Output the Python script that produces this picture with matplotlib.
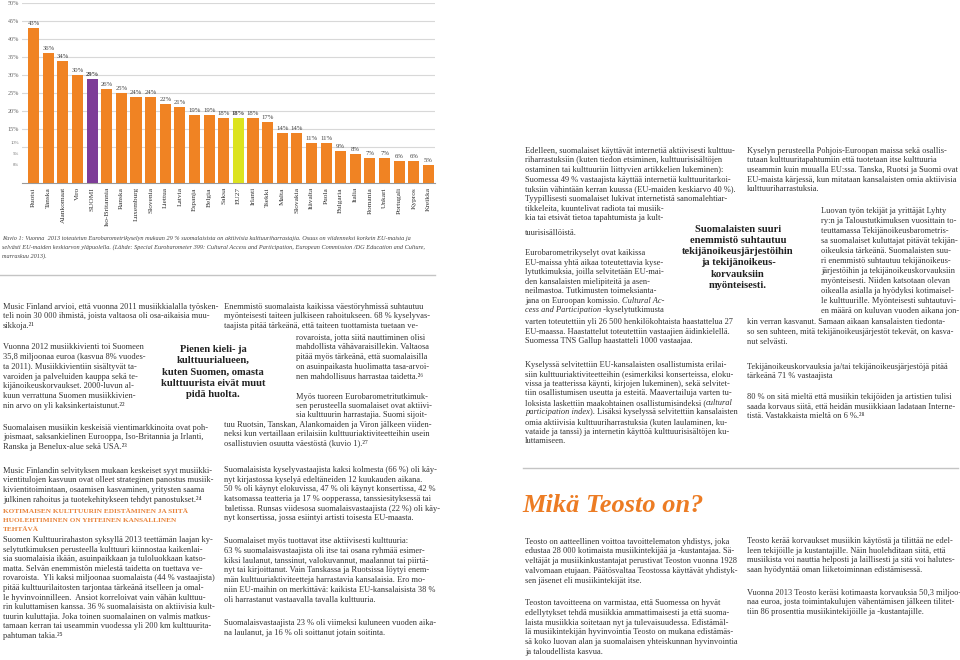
import matplotlib.pyplot as plt
from matplotlib.lines import Line2D

W, H = 960, 660
SERIF = ['Liberation Serif', 'DejaVu Serif']
TXT = '#333333'
ORANGE = '#f08323'
BODY = 6.0

countries = ['Ruotsi', 'Tanska', 'Alankomaat', 'Viro', 'SUOMI', 'Iso-Britannia', 'Ranska',
             'Luxemburg', 'Slovenia', 'Liettua', 'Latvia', 'Espanja', 'Belgia', 'Saksa',
             'EU27', 'Irlanti', 'Tsekki', 'Malta', 'Slovakia', 'Itävalta', 'Puola',
             'Bulgaria', 'Italia', 'Romania', 'Unkari', 'Portugali', 'Kypros', 'Kreikka']
share = [43, 36, 34, 30, 29, 26, 25, 24, 24, 22, 21, 19, 19, 18, 18, 18, 17, 14, 14,
         11, 11, 9, 8, 7, 7, 6, 6, 5]
special = {'SUOMI': '#7d3c98', 'EU27': '#dce31f'}
yticks = [15, 20, 25, 30, 35, 40, 45, 50]

caption = [
    'Kuvio 1: Vuonna  2013 toteutetun Eurobarometrikyselyn mukaan 29 % suomalaisista on aktiivisia kulttuuriharrastajia. Osuus on viidenneksi korkein EU-maista ja',
    'selvästi EU-maiden keskiarvon yläpuolella. (Lähde: Special Eurobarometer 399: Cultural Access and Participation, European Commission /DG Education and Culture,',
    'marraskuu 2013).',
]

fig = plt.figure(figsize=(9.6, 6.6), dpi=100)
fig.patch.set_facecolor('white')

# ---- bar chart
ax = fig.add_axes([22 / W, 1 - 183 / H, 413 / W, 180 / H])
x = range(len(countries))
colors = [special.get(c, ORANGE) for c in countries]
ax.bar(x, share, width=0.76, color=colors, zorder=3)
for i, (c, v) in enumerate(zip(countries, share)):
    ax.annotate('%d%%' % v, (i, v), xytext=(0, 1.5), textcoords='offset points',
                ha='center', va='bottom', fontsize=4.8, color='#444',
                family=SERIF, fontweight='bold' if c in special else 'normal')
ax.set_xlim(-0.8, len(countries) - 0.55)
ax.set_ylim(0, 50)
for g in [10] + yticks:
    ax.axhline(g, color='#d8d8d8', lw=0.8, zorder=1)
ax.set_yticks(yticks)
ax.set_yticklabels(['%d%%' % t for t in yticks], fontsize=4.4, color='#666', family=SERIF)
ax.set_xticks(list(x))
ax.set_xticklabels(countries, rotation=90, fontsize=5.3, color='#333', family=SERIF)
ax.tick_params(length=0, pad=3)
ax.tick_params(axis='y', pad=2)
for s in ['top', 'right', 'left']:
    ax.spines[s].set_visible(False)
ax.spines['bottom'].set_color('#999')
ax.spines['bottom'].set_linewidth(0.8)
# odd, squeezed low tick labels of the original chart
for lab, py in [('10%', 142.7), ('5%', 154), ('0%', 165)]:
    fig.text(19 / W, 1 - py / H, lab, ha='right', va='center', fontsize=3.4,
             color='#777', family=SERIF)

for i, s in enumerate(caption):
    fig.text(2 / W, 1 - (238.5 + i * 8.6) / H, s, ha='left', va='center', fontsize=4.5,
             style='italic', color='#444', family=SERIF)


def rule(x0, x1, y):
    fig.add_artist(Line2D([x0 / W, x1 / W], [1 - y / H, 1 - y / H], color='#c4c4c4', lw=1.0))


def block(x0, y0, lines, dy=9.7, size=BODY, **kw):
    out = []
    for i, s in enumerate(lines):
        out.append(fig.text(x0 / W, 1 - (y0 + i * dy) / H, s, ha='left', va='center',
                            fontsize=size, color=kw.get('color', TXT), family=SERIF,
                            fontweight=kw.get('weight', 'normal')))
    return out


def after(prev, s, style='normal'):
    return plt.annotate(s, xy=(1, 0.5), xycoords=prev, ha='left', va='center', fontsize=BODY,
                        color=TXT, family=SERIF, style=style, annotation_clip=False)


def quote(cx, y0, lines, dy=11.4):
    for i, s in enumerate(lines):
        fig.text(cx / W, 1 - (y0 + i * dy) / H, s, ha='center', va='center', fontsize=7.6,
                 fontweight='bold', color='#222', family=SERIF)


rule(0, 435, 275)
rule(523, 958, 468)

# ---- column 1
block(3, 306.7, ['Music Finland arvioi, että vuonna 2011 musiikkialalla työsken-',
                 'teli noin 30 000 ihmistä, joista valtaosa oli osa-aikaisia muu-',
                 'sikkoja.²¹'])
block(3, 347.3, ['Vuonna 2012 musiikkivienti toi Suomeen',
                 '35,8 miljoonaa euroa (kasvua 8% vuodes-',
                 'ta 2011). Musiikkivientiin sisältyvät ta-',
                 'varoiden ja palveluiden kauppa sekä te-',
                 'kijänoikeuskorvaukset. 2000-luvun al-',
                 'kuun verrattuna Suomen musiikkivien-',
                 'nin arvo on yli kaksinkertaistunut.²²'], dy=9.75)
block(3, 427.7, ['Suomalaisen musiikin keskeisiä vientimarkkinoita ovat poh-',
                 'joismaat, saksankielinen Eurooppa, Iso-Britannia ja Irlanti,',
                 'Ranska ja Benelux-alue sekä USA.²³'])
block(3, 470.7, ['Music Finlandin selvityksen mukaan keskeiset syyt musiikki-',
                 'vientitulojen kasvuun ovat olleet strateginen panostus musiik-',
                 'kivientitoimintaan, osaamisen kasvaminen, yritysten saama',
                 'julkinen rahoitus ja tuotekehitykseen tehdyt panostukset.²⁴'])
block(3, 511.7, ['KOTIMAISEN KULTTUURIN EDISTÄMINEN JA SIITÄ',
                 'HUOLEHTIMINEN ON YHTEINEN KANSALLINEN',
                 'TEHTÄVÄ'], dy=8.7, size=5.2, color='#e8843c', weight='bold')
block(3, 540.3, ['Suomen Kulttuurirahaston syksyllä 2013 teettämän laajan ky-',
                 'selytutkimuksen perusteella kulttuuri kiinnostaa kaikenlai-',
                 'sia suomalaisia ikään, asuinpaikkaan ja tuloluokkaan katso-',
                 'matta. Selvän enemmistön mielestä taidetta on tuettava ve-',
                 'rovaroista.  Yli kaksi miljoonaa suomalaista (44 % vastaajista)',
                 'pitää kulttuurilaitosten tarjontaa tärkeänä itselleen ja omal-',
                 'le hyvinvoinnilleen.  Ansiot korreloivat vain vähän kulttuu-',
                 'rin kuluttamisen kanssa. 36 % suomalaisista on aktiivisia kult-',
                 'tuurin kuluttajia. Joka toinen suomalainen on valmis matkus-',
                 'tamaan kerran tai useammin vuodessa yli 200 km kulttuurita-',
                 'pahtuman takia.²⁵'], dy=9.55)

# ---- column 2
block(224, 306.7, ['Enemmistö suomalaista kaikissa väestöryhmissä suhtautuu',
                   'myönteisesti taiteen julkiseen rahoitukseen. 68 % kyselyvas-',
                   'taajista pitää tärkeänä, että taiteen tuottamista tuetaan ve-'])
block(296, 337.7, ['rovaroista, jotta siitä nauttiminen olisi',
                   'mahdollista vähävaraisillekin. Valtaosa',
                   'pitää myös tärkeänä, että suomalaisilla',
                   'on asuinpaikasta huolimatta tasa-arvoi-',
                   'nen mahdollisuus harrastaa taidetta.²⁶'], dy=9.75)
block(296, 396.7, ['Myös tuoreen Eurobarometritutkimuk-',
                   'sen perusteella suomalaiset ovat aktiivi-',
                   'sia kulttuurin harrastajia. Suomi sijoit-'], dy=9.3)
block(224, 424.7, ['tuu Ruotsin, Tanskan, Alankomaiden ja Viron jälkeen viiden-',
                   'neksi kun vertaillaan erilaisiin kulttuuriaktiviteetteihin usein',
                   'osallistuvien osuutta väestöstä (kuvio 1).²⁷'], dy=9.3)
quote(213, 349.3, ['Pienen kieli- ja', 'kulttuurialueen,', 'kuten Suomen, omasta',
                   'kulttuurista eivät muut', 'pidä huolta.'])
block(224, 470, ['Suomalaisista kyselyvastaajista kaksi kolmesta (66 %) oli käy-',
                 'nyt kirjastossa kyselyä edeltäneiden 12 kuukauden aikana.',
                 '50 % oli käynyt elokuvissa, 47 % oli käynyt konsertissa, 42 %',
                 'katsomassa teatteria ja 17 % oopperassa, tanssiesityksessä tai',
                 'baletissa. Runsas viidesosa suomalaisvastaajista (22 %) oli käy-',
                 'nyt konsertissa, jossa esiintyi artisti toisesta EU-maasta.'])
block(224, 541, ['Suomalaiset myös tuottavat itse aktiivisesti kulttuuria:',
                 '63 % suomalaisvastaajista oli itse tai osana ryhmää esimer-',
                 'kiksi laulanut, tanssinut, valokuvannut, maalannut tai piirtä-',
                 'nyt tai kirjoittanut. Vain Tanskassa ja Ruotsissa löytyi enem-',
                 'män kulttuuriaktiviteetteja harrastavia kansalaisia. Ero mo-',
                 'niin EU-maihin on merkittävä: kaikista EU-kansalaisista 38 %',
                 'oli harrastanut vastaavalla tavalla kulttuuria.'], dy=9.8)
block(224, 623.3, ['Suomalaisvastaajista 23 % oli viimeksi kuluneen vuoden aika-',
                   'na laulanut, ja 16 % oli soittanut jotain soitinta.'], dy=9.4)

# ---- column 3
block(525, 150.7, ['Edelleen, suomalaiset käyttävät internetiä aktiivisesti kulttuu-',
                   'riharrastuksiin (kuten tiedon etsiminen, kulttuurisisältöjen',
                   'ostaminen tai kulttuuriin liittyvien artikkelien lukeminen):',
                   'Suomessa 49 % vastaajista käyttää internetiä kulttuuritarkoi-',
                   'tuksiin vähintään kerran kuussa (EU-maiden keskiarvo 40 %).',
                   'Tyypillisesti suomalaiset lukivat internetistä sanomalehtiar-',
                   'tikkeleita, kuuntelivat radiota tai musiik-',
                   'kia tai etsivät tietoa tapahtumista ja kult-'], dy=9.65)
block(525, 233, ['tuurisisällöistä.'])
t = block(525, 253.3, ['Eurobarometrikyselyt ovat kaikissa',
                       'EU-maissa yhtä aikaa toteutettavia kyse-',
                       'lytutkimuksia, joilla selvitetään EU-mai-',
                       'den kansalaisten mielipiteitä ja asen-',
                       'neilmastoa. Tutkimusten toimeksianta-',
                       'jana on Euroopan komissio. ',
                       ''], dy=9.5)
after(t[5], 'Cultural Ac-', 'italic')
p = fig.text(525 / W, 1 - 310.3 / H, 'cess and Participation', ha='left', va='center',
             fontsize=BODY, color=TXT, family=SERIF, style='italic')
after(p, ' -kyselytutkimusta')
block(525, 322, ['varten toteutettiin yli 26 500 henkilökohtaista haastattelua 27',
                 'EU-maassa. Haastattelut toteutettiin vastaajien äidinkielellä.',
                 'Suomessa TNS Gallup haastatteli 1000 vastaajaa.'], dy=9.65)
t = block(525, 364.7, ['Kyselyssä selvitettiin EU-kansalaisten osallistumista erilai-',
                       'siin kulttuuriaktiviteetteihin (esimerkiksi konserteissa, eloku-',
                       'vissa ja teatterissa käynti, kirjojen lukeminen), sekä selvitet-',
                       'tiin osallistumisen useutta ja esteitä. Maavertailuja varten tu-',
                       'loksista laskettiin maakohtainen osallistumisindeksi (',
                       ''], dy=9.55)
after(t[4], 'cultural', 'italic')
p = fig.text(525 / W, 1 - (364.7 + 5 * 9.55) / H, 'participation index', ha='left',
             va='center', fontsize=BODY, color=TXT, family=SERIF, style='italic')
after(p, '). Lisäksi kyselyssä selvitettiin kansalaisten')
block(525, 364.7 + 6 * 9.55, ['omia aktiivisia kulttuuriharrastuksia (kuten laulaminen, ku-',
                              'vataide ja tanssi) ja internetin käyttöä kulttuurisisältöjen ku-',
                              'luttamiseen.'], dy=9.55)
quote(738, 229, ['Suomalaisten suuri', 'enemmistö suhtautuu', 'tekijänoikeusjärjestöihin',
                 'ja tekijänoikeus-', 'korvauksiin', 'myönteisesti.'], dy=11.3)

# ---- column 4
block(747, 150.7, ['Kyselyn perusteella Pohjois-Euroopan maissa sekä osallis-',
                   'tutaan kulttuuritapahtumiin että tuotetaan itse kulttuuria',
                   'useammin kuin muualla EU:ssa. Tanska, Ruotsi ja Suomi ovat',
                   'EU-maista kärjessä, kun mitataan kansalaisten omia aktiivisia',
                   'kulttuuriharrastuksia.'], dy=9.65)
block(821, 210.7, ['Luovan työn tekijät ja yrittäjät Lyhty',
                   'ry:n ja Taloustutkimuksen vuosittain to-',
                   'teuttamassa Tekijänoikeusbarometris-',
                   'sa suomalaiset kuluttajat pitävät tekijän-',
                   'oikeuksia tärkeänä. Suomalaisten suu-',
                   'ri enemmistö suhtautuu tekijänoikeus-',
                   'järjestöihin ja tekijänoikeuskorvauksiin',
                   'myönteisesti. Niiden katsotaan olevan',
                   'oikealla asialla ja hyödyksi kotimaisel-',
                   'le kulttuurille. Myönteisesti suhtautuvi-',
                   'en määrä on kuluvan vuoden aikana jon-'], dy=10.0)
block(747, 322.3, ['kin verran kasvanut. Samaan aikaan kansalaisten tiedonta-',
                   'so sen suhteen, mitä tekijänoikeusjärjestöt tekevät, on kasva-',
                   'nut selvästi.'], dy=9.65)
block(747, 366.7, ['Tekijänoikeuskorvauksia ja/tai tekijänoikeusjärjestöjä pitää',
                   'tärkeänä 71 % vastaajista'], dy=9.5)
block(747, 396.7, ['80 % on sitä mieltä että musiikin tekijöiden ja artistien tulisi',
                   'saada korvaus siitä, että heidän musiikkiaan ladataan Interne-',
                   'tistä. Vastakkaista mieltä on 6 %.²⁸'], dy=9.65)

# ---- Teosto
fig.text(522 / W, 1 - 505 / H, 'Mikä Teosto on?', ha='left', va='center', fontsize=19,
         fontweight='bold', style='italic', color='#ec7c24', family=SERIF)
block(525, 541.7, ['Teosto on aatteellinen voittoa tavoittelematon yhdistys, joka',
                   'edustaa 28 000 kotimaista musiikintekijää ja -kustantajaa. Sä-',
                   'veltäjät ja musiikinkustantajat perustivat Teoston vuonna 1928',
                   'valvomaan etujaan. Päätösvaltaa Teostossa käyttävät yhdistyk-',
                   'sen jäsenet eli musiikintekijät itse.'], dy=9.75)
block(525, 603.3, ['Teoston tavoitteena on varmistaa, että Suomessa on hyvät',
                   'edellytykset tehdä musiikkia ammattimaisesti ja että suoma-',
                   'laista musiikkia soitetaan nyt ja tulevaisuudessa. Edistämäl-',
                   'lä musiikintekijän hyvinvointia Teosto on mukana edistämäs-',
                   'sä koko luovan alan ja suomalaisen yhteiskunnan hyvinvointia',
                   'ja taloudellista kasvua.'], dy=9.7)
block(747, 541, ['Teosto kerää korvaukset musiikin käytöstä ja tilittää ne edel-',
                 'leen tekijöille ja kustantajille. Näin huolehditaan siitä, että',
                 'musiikista voi nauttia helposti ja laillisesti ja sitä voi halutes-',
                 'saan hyödyntää oman liiketoiminnan edistämisessä.'], dy=9.7)
block(747, 592.7, ['Vuonna 2013 Teosto keräsi kotimaasta korvauksia 50,3 miljoo-',
                   'naa euroa, josta toimintakulujen vähentämisen jälkeen tilitet-',
                   'tiin 86 prosenttia musiikintekijöille ja -kustantajille.'], dy=9.8)

fig.savefig('out.png', dpi=100, facecolor='white')
